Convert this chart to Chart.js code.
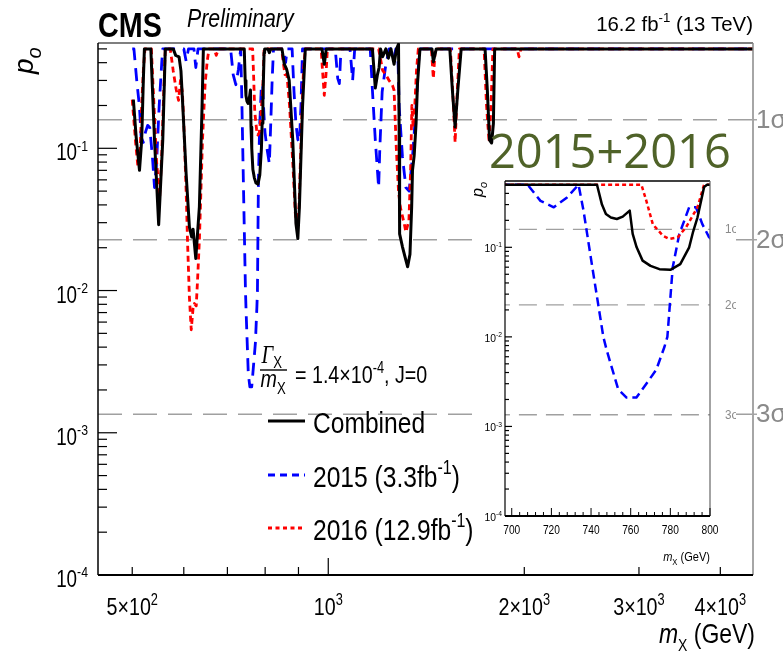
<!DOCTYPE html>
<html>
<head>
<meta charset="utf-8">
<script src="https://cdn.jsdelivr.net/npm/chart.js@4.4.1/dist/chart.umd.min.js"></script>
<style>
  html, body { margin: 0; padding: 0; background: #fff; }
  #wrap { position: relative; width: 783px; height: 653px; overflow: hidden; }
  #main { position: absolute; left: 0; top: 0; }
  #inset { position: absolute; left: 472px; top: 178px; }
</style>
</head>
<body>
<div id="wrap">
  <canvas id="main" width="783" height="653"></canvas>
  <canvas id="inset" width="264" height="389"></canvas>
</div>
<script>
// local p-value scans vs resonance mass (GeV)
const massComb = [
  502, 507, 513, 517, 520, 522, 534, 541, 549, 557,
  562, 578, 583, 590, 594, 598, 605, 612, 617, 620,
  626, 634, 640, 643, 743, 745.5, 747.5, 750, 753, 756,
  759.5, 761, 763, 766, 770, 774.5, 780, 785, 789.5, 791.5,
  793.7, 797, 798.5, 808, 812, 816, 849, 856, 863, 871,
  882, 892, 898, 903, 913, 922, 978, 986, 993, 1169,
  1181, 1190, 1197, 1203, 1212, 1226, 1237, 1248, 1262, 1273,
  1282, 1285, 1287, 1300, 1316, 1324, 1335, 1343, 1347, 1355,
  1364, 1371, 1383, 1443, 1450, 1465, 1537, 1551, 1566, 1581,
  1600, 1741, 1755, 1769, 1782, 1793, 1801, 4490
];
const pComb = [
  0.22, 0.12, 0.070, 0.114, 0.30, 0.5, 0.5, 0.114, 0.029, 0.114,
  0.5, 0.5, 0.45, 0.44, 0.35, 0.195, 0.066, 0.028, 0.0238, 0.027,
  0.0168, 0.0387, 0.195, 0.5, 0.5, 0.3, 0.235, 0.215, 0.207, 0.22,
  0.257, 0.141, 0.1, 0.071, 0.062, 0.057, 0.056, 0.065, 0.1, 0.15,
  0.216, 0.47, 0.5, 0.5, 0.47, 0.5, 0.5, 0.39, 0.36, 0.30,
  0.114, 0.0296, 0.0232, 0.0387, 0.195, 0.5, 0.5, 0.39, 0.5, 0.5,
  0.265, 0.33, 0.37, 0.5, 0.44, 0.5, 0.43, 0.5, 0.39, 0.5,
  0.54, 0.12, 0.025, 0.0203, 0.0163, 0.0147, 0.018, 0.0387, 0.07, 0.089,
  0.149, 0.285, 0.5, 0.5, 0.405, 0.5, 0.5, 0.256, 0.141, 0.256,
  0.5, 0.5, 0.256, 0.114, 0.109, 0.149, 0.5, 0.5
];

const mass2016 = [
  500, 506, 510, 514, 517, 520, 523, 535, 540, 545,
  551, 555, 558, 562, 572, 578, 584, 589, 593, 597,
  600, 605, 608, 612, 616, 620, 623, 627, 630, 634,
  641, 647, 652, 656, 668, 673, 678, 765.4, 767.9, 771.2,
  776.2, 779.5, 783.7, 787.9, 793.7, 797, 848, 853, 858, 864,
  872, 882, 890, 896, 902, 910, 916, 922, 975, 980,
  986, 992, 997, 1195, 1212, 1225, 1240, 1255, 1262, 1272,
  1282, 1290, 1308, 1316, 1330, 1338, 1344, 1350, 1358, 1366,
  1375, 1440, 1450, 1460, 1540, 1553, 1566, 1578, 1590, 1735,
  1750, 1766, 1778, 1790, 1950, 1963, 1976, 4490
];
const p2016 = [
  0.22, 0.11, 0.075, 0.09, 0.2, 0.35, 0.5, 0.5, 0.2, 0.08,
  0.0455, 0.09, 0.2, 0.5, 0.5, 0.35, 0.26, 0.217, 0.3, 0.25,
  0.15, 0.05, 0.022, 0.009, 0.0053, 0.0075, 0.0081, 0.0078, 0.012, 0.0226,
  0.114, 0.285, 0.415, 0.5, 0.5, 0.45, 0.5, 0.5, 0.33, 0.18,
  0.135, 0.124, 0.129, 0.167, 0.28, 0.5, 0.5, 0.4, 0.33, 0.33,
  0.2, 0.08, 0.035, 0.0265, 0.04, 0.15, 0.35, 0.5, 0.5, 0.35,
  0.236, 0.33, 0.5, 0.5, 0.353, 0.33, 0.30, 0.277, 0.256, 0.1,
  0.05, 0.0387, 0.0296, 0.0258, 0.031, 0.07, 0.2, 0.14, 0.2, 0.35,
  0.5, 0.5, 0.31, 0.5, 0.5, 0.25, 0.11, 0.25, 0.5, 0.5,
  0.2, 0.11, 0.2, 0.5, 0.5, 0.44, 0.5, 0.5
];

const mass2015 = [
  500, 503, 508, 513, 516, 520, 524, 528, 532, 537,
  541, 545, 550, 555, 557, 600, 605, 610, 622, 626,
  631, 708, 714.5, 721.2, 727.9, 733.7, 736.2, 741.2, 746.2, 747.9,
  750.4, 753.7, 757.9, 762.9, 767.9, 772.9, 777, 778.5, 781.2, 784.5,
  789.5, 792.9, 796.2, 799.5, 805, 812, 816, 820, 824, 855,
  860, 865, 880, 886, 892, 898, 903, 908, 913, 1025,
  1034, 1040, 1046, 1080, 1090, 1098, 1160, 1169, 1181, 1195,
  1200, 1210, 1224, 1240, 1255, 1262, 1270, 1280, 1285, 1300,
  1316, 1331, 1347, 1364, 1379, 1385, 4490
];
const p2015 = [
  0.5, 0.5, 0.30, 0.195, 0.12, 0.11, 0.13, 0.145, 0.14, 0.087,
  0.053, 0.08, 0.2, 0.4, 0.5, 0.5, 0.41, 0.5, 0.5, 0.37,
  0.5, 0.5, 0.33, 0.28, 0.36, 0.5, 0.257, 0.05, 0.01, 0.0071,
  0.0046, 0.0026, 0.0021, 0.0021, 0.003, 0.0043, 0.0077, 0.01, 0.06, 0.14,
  0.28, 0.28, 0.18, 0.13, 0.1, 0.078, 0.15, 0.3, 0.5, 0.5,
  0.4, 0.5, 0.5, 0.25, 0.149, 0.115, 0.11, 0.2, 0.5, 0.5,
  0.31, 0.285, 0.5, 0.5, 0.30, 0.5, 0.5, 0.256, 0.114, 0.053,
  0.1, 0.25, 0.37, 0.5, 0.5, 0.44, 0.5, 0.4, 0.195, 0.087,
  0.053, 0.05, 0.087, 0.195, 0.47, 0.5, 0.5
];

// 1, 2, 3 sigma reference levels
const sigmaP = [0.1587, 0.02275, 0.00135];
const sigmaLabels = ['1σ', '2σ', '3σ'];

// axis ticks
const mainXTicks = [500, 600, 700, 800, 900, 1000, 2000, 3000, 4000];
const mainXLabelVals = [500, 1000, 2000, 3000, 4000];
const mainXLabelMant = ['5×', '', '2×', '3×', '4×'];
const mainXLabelExp = ['2', '3', '3', '3', '3'];
const yDecades = [-4, -3, -2, -1];
const insetXLabels = [700, 720, 740, 760, 780, 800];

const SANS = '"Liberation Sans", Arial, Helvetica, sans-serif';
const SERIF = '"Liberation Serif", "Times New Roman", serif';

function toPoints(xs, ys) {
  return xs.map((m, i) => ({ x: m, y: ys[i] }));
}

function curve(label, xs, ys, color, dash, width) {
  return {
    label, data: toPoints(xs, ys), borderColor: color, borderWidth: width,
    borderDash: dash, fill: false, pointRadius: 0, tension: 0,
    borderJoinStyle: 'round'
  };
}

function sigmaLine(p, x0, x1, dash) {
  return {
    label: 'sigma', data: [{ x: x0, y: p }, { x: x1, y: p }],
    borderColor: '#a0a0a0', borderWidth: 1.4, borderDash: dash,
    fill: false, pointRadius: 0
  };
}

function seg(ctx, x0, y0, x1, y1, color, w, dash) {
  ctx.save();
  ctx.strokeStyle = color;
  ctx.lineWidth = w;
  ctx.setLineDash(dash || []);
  ctx.beginPath();
  ctx.moveTo(x0, y0);
  ctx.lineTo(x1, y1);
  ctx.stroke();
  ctx.restore();
}

// text made of runs with optional super/subscripts, squeezed horizontally
function rich(ctx, runs, x, y, o) {
  const size = o.size, sx = o.sx ?? 0.82;
  const font = r => {
    const s = r.size ?? ((r.sup || r.sub) ? size * 0.65 : size);
    const it = (r.italic ?? o.italic) ? 'italic ' : '';
    const b = (r.bold ?? o.bold) ? 'bold ' : '';
    return `${it}${b}${s}px ${r.family ?? o.family ?? SANS}`;
  };
  let w = 0;
  for (const r of runs) { ctx.font = font(r); w += ctx.measureText(r.t).width; }
  ctx.save();
  ctx.translate(x, y);
  if (o.rot) ctx.rotate(o.rot);
  ctx.scale(sx, 1);
  ctx.fillStyle = o.color ?? '#000';
  ctx.textBaseline = 'alphabetic';
  ctx.textAlign = 'left';
  let cx = o.align === 'right' ? -w : o.align === 'center' ? -w / 2 : 0;
  for (const r of runs) {
    ctx.font = font(r);
    const dy = r.sup ? -size * 0.42 : r.sub ? size * (r.dy ?? 0.3) : 0;
    ctx.fillText(r.t, cx, dy);
    cx += ctx.measureText(r.t).width;
  }
  ctx.restore();
}

function logTicks(ctx, scale, a, major, minor) {
  for (const e of yDecades.concat([0])) {
    for (let k = 1; k <= 9; k++) {
      const v = k * Math.pow(10, e);
      if (v < scale.min * 0.999 || v > scale.max) continue;
      const py = scale.getPixelForValue(v);
      seg(ctx, a.left, py, a.left + (k === 1 ? major : minor), py, '#000', 1.2);
    }
  }
}

const mainDecor = {
  id: 'mainDecor',
  afterDraw(chart) {
    const { ctx, chartArea: a } = chart;
    const x = chart.scales.x, y = chart.scales.y;

    // frame
    seg(ctx, a.left, a.top, a.right, a.top, '#000', 1.2);
    seg(ctx, a.right, a.top, a.right, a.bottom, '#888', 1.5);
    seg(ctx, a.left, a.top, a.left, a.bottom, '#000', 1.5);
    seg(ctx, a.left, a.bottom, a.right, a.bottom, '#000', 2.2);

    // ticks
    logTicks(ctx, y, a, 19, 9);
    for (const v of mainXTicks) {
      const px = x.getPixelForValue(v);
      seg(ctx, px, a.bottom, px, a.bottom - (v === 1000 ? 17 : 8), '#000', 1.2);
    }

    // tick labels
    for (const e of yDecades) {
      rich(ctx, [{ t: '10' }, { t: String(e), sup: true }], 88, y.getPixelForValue(Math.pow(10, e)) + 12,
        { size: 23, align: 'right' });
    }
    mainXLabelVals.forEach((v, i) => {
      rich(ctx, [{ t: mainXLabelMant[i] + '10' }, { t: mainXLabelExp[i], sup: true }],
        x.getPixelForValue(v), 615, { size: 24, align: 'center' });
    });

    // axis titles
    rich(ctx, [{ t: 'm', italic: true }, { t: 'X', sub: true, size: 17 }, { t: ' (GeV)' }],
      755, 643, { size: 28, align: 'right' });
    rich(ctx, [{ t: 'p', italic: true }, { t: 'o', sub: true, italic: true, size: 20, dy: 0.28 }],
      33, 74, { size: 28, rot: -Math.PI / 2, sx: 1 });

    // header
    rich(ctx, [{ t: 'CMS', bold: true }], 98, 37, { size: 35 });
    rich(ctx, [{ t: 'Preliminary', italic: true }], 187, 27, { size: 26 });
    rich(ctx, [{ t: '16.2 fb' }, { t: '-1', sup: true }, { t: ' (13 TeV)' }], 753, 31,
      { size: 20.4, align: 'right', sx: 1 });

    // sigma labels beside the frame
    sigmaP.forEach((p, i) => {
      const py = y.getPixelForValue(p);
      seg(ctx, a.right, py, a.right + 4, py, '#a0a0a0', 1.4);
      rich(ctx, [{ t: sigmaLabels[i] }], a.right + 3, py + 8, { size: 26, color: '#8a8a8a', sx: 1 });
    });

    // legend
    rich(ctx, [{ t: 'Γ', italic: true, family: SERIF, size: 25 }, { t: 'X', sub: true, size: 16, dy: 0.22 }],
      261.5, 363, { size: 24 });
    seg(ctx, 260, 370, 287, 370, '#000', 1.4);
    rich(ctx, [{ t: 'm', italic: true }, { t: 'X', sub: true, size: 16, dy: 0.28 }], 260.5, 387, { size: 24 });
    rich(ctx, [{ t: '= 1.4×10' }, { t: '-4', sup: true }, { t: ', J=0' }], 295, 383, { size: 24 });

    seg(ctx, 268, 421, 305, 421, '#000', 3);
    rich(ctx, [{ t: 'Combined' }], 313, 433, { size: 30 });
    seg(ctx, 268, 475, 305, 475, '#0000ff', 3, [7, 5]);
    rich(ctx, [{ t: '2015 (3.3fb' }, { t: '-1', sup: true }, { t: ')' }], 313, 487, { size: 30 });
    seg(ctx, 268, 528, 305, 528, '#ff0000', 3, [4, 3.5]);
    rich(ctx, [{ t: '2016 (12.9fb' }, { t: '-1', sup: true }, { t: ')' }], 313, 540, { size: 30 });

    // zoom panel heading
    ctx.save();
    ctx.font = '47px "Open Sans", Lato, sans-serif';
    ctx.fillStyle = '#4f6228';
    ctx.textBaseline = 'alphabetic';
    ctx.fillText('2015+2016', 489, 168);
    ctx.restore();
  }
};

const insetDecor = {
  id: 'insetDecor',
  beforeDraw(chart) {
    const ctx = chart.ctx;
    ctx.save();
    ctx.fillStyle = '#fff';
    ctx.fillRect(0, 0, chart.width, chart.height);
    ctx.restore();
  },
  afterDraw(chart) {
    const { ctx, chartArea: a } = chart;
    const x = chart.scales.x, y = chart.scales.y;

    seg(ctx, a.left, a.top, a.right, a.top, '#000', 1.4);
    seg(ctx, a.right, a.top, a.right, a.bottom, '#666', 1.2);
    seg(ctx, a.left, a.top, a.left, a.bottom, '#000', 1.2);
    seg(ctx, a.left, a.bottom, a.right, a.bottom, '#000', 2);

    logTicks(ctx, y, a, 7, 4);
    for (let v = 700; v <= 800; v += 4) {
      const px = x.getPixelForValue(v);
      seg(ctx, px, a.bottom, px, a.bottom - ((v - 700) % 20 === 0 ? 8 : 4), '#000', 1);
    }

    for (const e of yDecades) {
      rich(ctx, [{ t: '10' }, { t: String(e), sup: true }], a.left - 3, y.getPixelForValue(Math.pow(10, e)) + 5,
        { size: 11.5, align: 'right', sx: 0.9 });
    }
    for (const v of insetXLabels) {
      rich(ctx, [{ t: String(v) }], x.getPixelForValue(v), a.bottom + 18, { size: 12, align: 'center', sx: 0.85 });
    }
    rich(ctx, [{ t: 'm', italic: true }, { t: 'X', sub: true, size: 9 }, { t: ' (GeV)' }],
      a.right, 383, { size: 13, align: 'right', sx: 0.85 });
    rich(ctx, [{ t: 'p', italic: true }, { t: 'o', sub: true, italic: true, size: 11, dy: 0.28 }],
      11, 19, { size: 16, rot: -Math.PI / 2, sx: 1 });

    sigmaP.forEach((p, i) => {
      const py = y.getPixelForValue(p);
      rich(ctx, [{ t: sigmaLabels[i] }], a.right + 15, py + 4, { size: 13, color: '#8a8a8a', sx: 0.9 });
    });
  }
};

const baseOptions = (padding, xScale) => ({
  responsive: false,
  animation: false,
  events: [],
  layout: { padding },
  plugins: { legend: { display: false }, tooltip: { enabled: false } },
  elements: { point: { radius: 0 }, line: { tension: 0 } },
  scales: {
    x: xScale,
    y: { type: 'logarithmic', min: 1e-4, max: 0.55, display: false }
  }
});

new Chart(document.getElementById('main'), {
  type: 'line',
  data: {
    datasets: [
      curve('Combined', massComb, pComb, '#000000', [], 3),
      curve('2016 (12.9fb-1)', mass2016, p2016, '#ff0000', [6, 4], 2.8),
      curve('2015 (3.3fb-1)', mass2015, p2015, '#0000ff', [13, 8], 2.8),
      ...sigmaP.map(p => sigmaLine(p, 443, 4490, [24, 11]))
    ]
  },
  options: baseOptions({ left: 98, top: 43, right: 30, bottom: 78 },
    { type: 'logarithmic', min: 443, max: 4490, display: false }),
  plugins: [mainDecor]
});

new Chart(document.getElementById('inset'), {
  type: 'line',
  data: {
    datasets: [
      curve('Combined', massComb, pComb, '#000000', [], 2.5),
      curve('2016 (12.9fb-1)', mass2016, p2016, '#ff0000', [4, 3], 2.5),
      curve('2015 (3.3fb-1)', mass2015, p2015, '#0000ff', [9, 5], 2.5),
      ...sigmaP.map(p => sigmaLine(p, 690, 810, [18, 9]))
    ]
  },
  options: baseOptions({ left: 33, top: 3, right: 26, bottom: 51 },
    { type: 'linear', min: 696.6, max: 800, display: false }),
  plugins: [insetDecor]
});
</script>
</body>
</html>
